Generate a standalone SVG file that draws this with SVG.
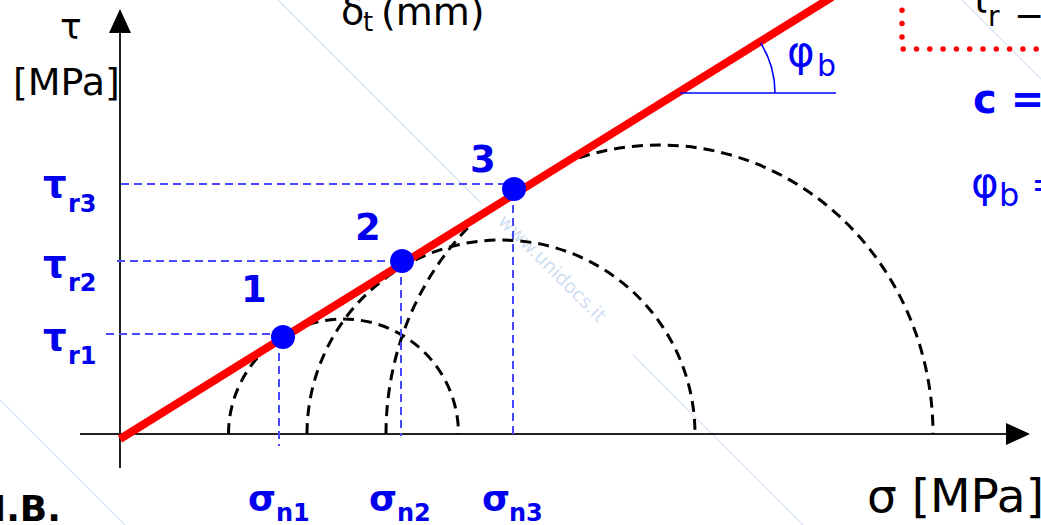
<svg xmlns="http://www.w3.org/2000/svg" width="1041" height="525" viewBox="0 0 1041 525">
  <defs>
    <style>
      .wm { stroke: #d6e4f4; stroke-width: 1.2; fill: none; }
      .wmt { fill: #cfdff2; font-family: "DejaVu Sans", sans-serif; font-size: 19px; }
      .axis { stroke: #222; stroke-width: 2; fill: none; }
      .arrow { fill: #000; }
      .mohr { stroke: #000; stroke-width: 3; stroke-dasharray: 11 7; fill: none; }
      .guide { stroke: #4848ff; stroke-width: 2; stroke-dasharray: 8 5; fill: none; }
      .env { stroke: #ff0000; stroke-width: 8; fill: none; }
      .dot { fill: #0000ff; }
      .lbl { fill: #0000ee; font-family: "DejaVu Sans", "Verdana", sans-serif; font-weight: bold; }
      .blk { fill: #000; font-family: "DejaVu Sans", "Verdana", sans-serif; }
      .blu { fill: #0000ff; font-family: "DejaVu Sans", "Verdana", sans-serif; }
    </style>
    <clipPath id="below">
      <polygon points="120,439 832,-3 1041,-3 1041,525 120,525"/>
    </clipPath>
  </defs>

  <g id="watermark">
    <line class="wm" x1="278" y1="0" x2="482" y2="204"/>
    <line class="wm" x1="633" y1="355" x2="803" y2="525"/>
    <line class="wm" x1="962" y1="0" x2="1041" y2="79"/>
    <line class="wm" x1="0" y1="400" x2="125" y2="525"/>
    <text class="wmt" transform="translate(497,222) rotate(45)">www.unidocs.it</text>
  </g>

  <g id="axes">
    <line class="axis" x1="120" y1="468" x2="120" y2="30"/>
    <polygon class="arrow" points="120,9 109,33 131,33"/>
    <line class="axis" x1="80" y1="434" x2="1010" y2="434"/>
    <polygon class="arrow" points="1030,434 1006,423 1006,445"/>
  </g>

  <g id="mohr-circles" clip-path="url(#below)">
    <path class="mohr" d="M228.5,434 A115,115 0 0 1 458.5,434"/>
    <path class="mohr" d="M307,434 A194,194 0 0 1 695,434"/>
    <path class="mohr" d="M386,434 A273.5,289 0 0 1 933,434"/>
  </g>

  <g id="connectors">
    <line class="guide" x1="106" y1="334" x2="280" y2="334"/>
    <line class="guide" x1="117" y1="261" x2="398" y2="261"/>
    <line class="guide" x1="121" y1="184" x2="508" y2="184"/>
    <line class="guide" x1="279" y1="340" x2="279" y2="446"/>
    <line class="guide" x1="401" y1="264" x2="401" y2="436"/>
    <line class="guide" x1="513" y1="192" x2="513" y2="436"/>
  </g>

  <g id="envelope">
    <line class="env" x1="120" y1="439" x2="832" y2="-3"/>
    <line x1="680" y1="93" x2="836" y2="93" stroke="#0000ff" stroke-width="1.6"/>
    <path d="M760.7,43 A95,95 0 0 1 775,93" stroke="#0000ff" stroke-width="1.6" fill="none"/>
  </g>

  <g id="point-1">
    <circle class="dot" cx="283" cy="337" r="12"/>
    <text class="lbl" x="241" y="302" font-size="37">1</text>
  </g>
  <g id="point-2">
    <circle class="dot" cx="402" cy="261" r="12"/>
    <text class="lbl" x="355" y="240" font-size="37">2</text>
  </g>
  <g id="point-3">
    <circle class="dot" cx="514" cy="189" r="12"/>
    <text class="lbl" x="470" y="172" font-size="37">3</text>
  </g>

  <g id="tau-labels">
    <text class="lbl" x="43" y="197" font-size="37">τ</text><text class="lbl" x="68" y="212" font-size="24">r3</text>
    <text class="lbl" x="43" y="277" font-size="37">τ</text><text class="lbl" x="68" y="291" font-size="24">r2</text>
    <text class="lbl" x="43" y="350" font-size="37">τ</text><text class="lbl" x="68" y="364" font-size="24">r1</text>
  </g>

  <g id="sigma-labels">
    <text class="lbl" x="248" y="511" font-size="36">σ</text><text class="lbl" x="276" y="521" font-size="24">n1</text>
    <text class="lbl" x="369" y="511" font-size="36">σ</text><text class="lbl" x="397" y="521" font-size="24">n2</text>
    <text class="lbl" x="482" y="511" font-size="36">σ</text><text class="lbl" x="509" y="521" font-size="24">n3</text>
  </g>

  <g id="axis-labels">
    <text class="blk" x="60" y="39" font-size="36">τ</text>
    <text class="blk" x="13" y="95" font-size="38">[MPa]</text>
    <text class="blk" x="341" y="24" font-size="38">δ</text>
    <text class="blk" x="363" y="31" font-size="26">t</text>
    <text class="blk" x="381" y="25" font-size="38">(mm)</text>
    <text class="blk" x="867" y="512" font-size="47">σ [MPa]</text>
    <text class="blk" x="-24" y="521" font-size="36" font-weight="bold">N.B.</text>
  </g>

  <g id="angle-label">
    <text class="blu" x="787" y="66" font-size="42">φ</text>
    <text class="blu" x="817" y="76" font-size="30">b</text>
  </g>

  <g id="formula-box">
    <path d="M902,-3 V49 H1045" stroke="#ff0000" stroke-width="5.5" stroke-linecap="round" stroke-dasharray="0 13.3" fill="none"/>
    <text class="blk" x="968" y="13" font-size="38">τ</text>
    <text class="blk" x="988" y="26" font-size="28">r</text>
    <text class="blk" x="1014" y="28" font-size="36">−</text>
  </g>

  <g id="results">
    <text class="blu" x="973" y="113" font-size="40" font-weight="bold">c =</text>
    <text class="blu" x="971" y="197" font-size="42">φ</text>
    <text class="blu" x="999" y="206" font-size="32">b</text>
    <text class="blu" x="1031" y="197" font-size="38">=</text>
  </g>
</svg>
